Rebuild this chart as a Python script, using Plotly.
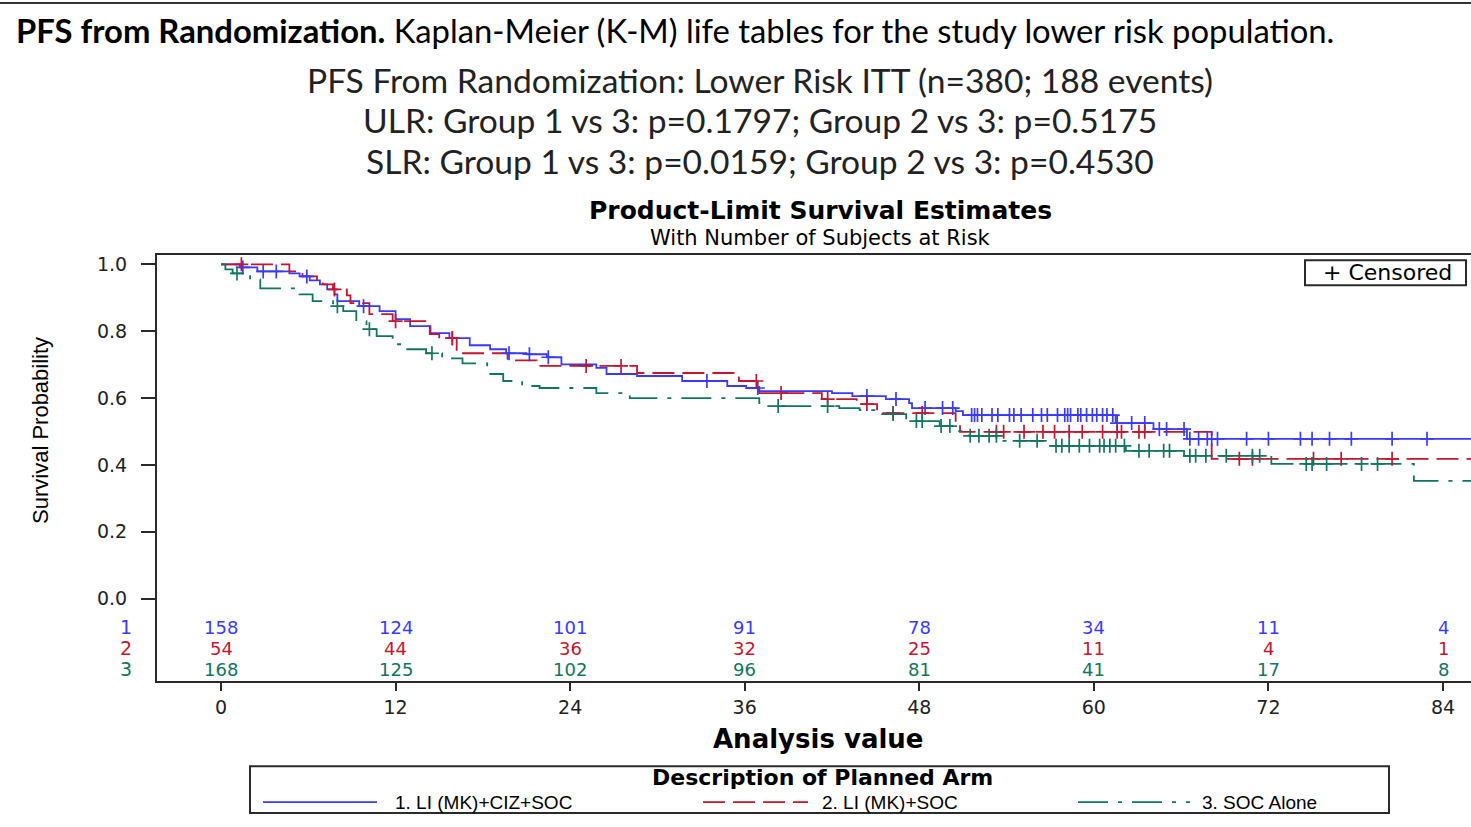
import numpy as np
import plotly.graph_objects as go

W, H = 1471, 827

# ---------------- data ----------------
months = [0, 12, 24, 36, 48, 60, 72, 84]

g1_t = [0, 1.3, 2.5, 4.7, 5.4, 6.1, 6.8, 7.3, 7.8, 8.0, 9.5, 10.9, 12.0, 13.0, 14.4, 15.7, 17.1, 18.5,
        19.6, 21.0, 22.4, 23.4, 25.8, 26.5, 28.6, 31.7, 34.8, 36.1, 37.0, 42.0, 43.4, 45.7, 47.3, 47.5,
        50.5, 51.0, 61.5, 64.1, 66.4, 86]
g1_s = [1.0, 0.991, 0.979, 0.973, 0.964, 0.952, 0.940, 0.925, 0.910, 0.890, 0.875, 0.860, 0.836, 0.815,
        0.794, 0.779, 0.758, 0.746, 0.734, 0.731, 0.722, 0.701, 0.690, 0.672, 0.666, 0.651, 0.636, 0.630,
        0.621, 0.615, 0.606, 0.597, 0.585, 0.570, 0.561, 0.549, 0.525, 0.507, 0.478, 0.478]
g1_cens = [1.5, 2.9, 3.8, 5.9, 9.8, 15.9, 19.8, 21.2, 22.5, 33.4, 36.9, 44.4, 46.4, 48.4, 49.6, 50.3,
           51.6, 51.8, 52.0, 52.3, 53.0, 53.4, 54.2, 54.5, 55.0, 55.8, 56.4, 56.8, 57.5, 58.0, 58.2, 58.4,
           58.9, 59.1, 59.5, 59.9, 60.2, 60.6, 60.9, 61.3, 61.6, 62.6, 63.5, 64.5, 65.0, 66.2, 66.6, 67.2,
           67.8, 68.1, 68.5, 70.5, 72.0, 74.2, 75.0, 76.2, 77.7, 80.5, 82.9]

g2_t = [0, 4.7, 5.6, 6.6, 7.0, 7.7, 8.65, 8.9, 10.2, 11.8, 14.35, 15.0, 16.2, 19.7, 21.7, 28.6, 35.6,
        37.0, 41.3, 43.7, 45.1, 50.5, 50.8, 68.1, 86]
g2_s = [1.0, 0.979, 0.964, 0.949, 0.940, 0.925, 0.907, 0.884, 0.851, 0.830, 0.791, 0.779, 0.734, 0.713,
        0.696, 0.675, 0.651, 0.615, 0.597, 0.582, 0.555, 0.522, 0.499, 0.418, 0.418]
g2_cens = [1.4, 7.8, 12.0, 15.9, 25.1, 27.5, 36.8, 38.5, 41.7, 44.4, 46.2, 48.2, 53.3, 53.8, 55.2, 56.5,
           57.3, 58.3, 59.2, 60.6, 61.6, 61.9, 63.1, 63.5, 70.0, 70.9, 75.1, 77.0, 80.5]

g3_t = [0, 0.3, 0.8, 2.0, 2.7, 5.4, 6.3, 7.7, 8.4, 9.3, 10.0, 10.7, 11.8, 12.8, 14.1, 15.2, 16.6, 18.3,
        19.4, 20.7, 21.9, 25.8, 28.1, 37.0, 37.5, 42.5, 43.9, 45.1, 47.1, 49.4, 50.5, 51.4, 53.7, 56.7,
        62.2, 66.2, 72.2, 82.0, 86]
g3_s = [1.0, 0.985, 0.973, 0.955, 0.928, 0.910, 0.890, 0.875, 0.860, 0.830, 0.806, 0.785, 0.761, 0.746,
        0.734, 0.719, 0.704, 0.672, 0.651, 0.636, 0.630, 0.615, 0.600, 0.585, 0.576, 0.570, 0.564, 0.552,
        0.531, 0.516, 0.501, 0.487, 0.472, 0.457, 0.442, 0.427, 0.403, 0.352, 0.352]
g3_cens = [1.1, 8.0, 10.2, 14.5, 38.3, 41.7, 46.2, 47.8, 48.2, 49.5, 50.1, 51.5, 52.1, 52.8, 53.3, 54.9,
           56.1, 57.4, 57.8, 58.3, 59.0, 59.7, 60.4, 60.7, 61.1, 61.5, 62.1, 63.1, 63.8, 64.8, 65.2, 66.6,
           67.0, 67.7, 69.1, 70.9, 71.4, 74.6, 75.0, 76.0, 78.4, 79.5]

risk_1 = [158, 124, 101, 91, 78, 34, 11, 4]
risk_2 = [54, 44, 36, 32, 25, 11, 4, 1]
risk_3 = [168, 125, 102, 96, 81, 41, 17, 8]

arm_labels = ["1. LI (MK)+CIZ+SOC", "2. LI (MK)+SOC", "3. SOC Alone"]

# ---------------- styling ----------------
C1, C2, C3 = "#3a3aff", "#c4162f", "#127563"
DASH2 = "22px,8px"
DASH3 = "30px,10px,4px,10px"
AX = "#2a2a2a"
SAS = "DejaVu Sans"


def px(x):
    return x / W


def py(y):
    return 1 - y / H


def step_at(t, s, c):
    idx = np.searchsorted(np.asarray(t), np.asarray(c), side="right") - 1
    return list(np.asarray(s)[idx])


fig = go.Figure()
groups = [(g1_t, g1_s, g1_cens, C1, "solid"),
          (g2_t, g2_s, g2_cens, C2, DASH2),
          (g3_t, g3_s, g3_cens, C3, DASH3)]
for t, s, c, col, dash in groups:
    fig.add_trace(go.Scatter(x=t, y=s, mode="lines", line=dict(color=col, width=1.8, dash=dash, shape="hv"),
                             showlegend=False, hoverinfo="skip"))
for t, s, c, col, dash in groups:
    fig.add_trace(go.Scatter(x=c, y=step_at(t, s, c), mode="markers",
                             marker=dict(symbol="cross-thin", size=10, line=dict(color=col, width=1.7)),
                             showlegend=False, hoverinfo="skip"))

x0, x1 = 157, 1471
y0, y1 = 254, 681
t_left = (x0 - 221) / ((1443 - 221) / 84)
t_right = (x1 - 221) / ((1443 - 221) / 84)
s_top = (598 - y0) / 335
s_bot = (598 - y1) / 335

fig.update_xaxes(domain=[px(x0), 1.0], range=[t_left, t_right], tickvals=months,
                 ticks="outside", ticklen=8, tickwidth=2, tickcolor=AX,
                 showline=True, linewidth=2, linecolor=AX, mirror=True,
                 showgrid=False, zeroline=False,
                 tickfont=dict(family=SAS, size=19, color="#222"))
fig.update_yaxes(domain=[py(y1), py(y0)], range=[s_bot, s_top],
                 tickvals=[0, 0.2, 0.4, 0.6, 0.8, 1.0],
                 ticktext=["0.0", "0.2", "0.4", "0.6", "0.8", "1.0"],
                 ticks="outside", ticklen=14, tickwidth=1.5, tickcolor=AX, ticklabelstandoff=10,
                 showline=True, linewidth=2, linecolor=AX, mirror=False,
                 showgrid=False, zeroline=False,
                 tickfont=dict(family=SAS, size=19, color="#222"))

ann = []
TF = "Lato"
ann.append(dict(x=px(14), y=py(29), xref="paper", yref="paper", xanchor="left", yanchor="middle",
                text="<b>PFS from Randomization.</b> Kaplan-Meier (K-M) life tables for the study lower risk population.",
                showarrow=False, font=dict(family=TF, size=32.8, color="#000")))
for yy, txt in [(78, "PFS From Randomization: Lower Risk ITT (n=380; 188 events)"),
                (118, "ULR: Group 1 vs 3: p=0.1797; Group 2 vs 3: p=0.5175"),
                (159, "SLR: Group 1 vs 3: p=0.0159; Group 2 vs 3: p=0.4530")]:
    ann.append(dict(x=px(760), y=py(yy), xref="paper", yref="paper", xanchor="center", yanchor="middle",
                    text=txt, showarrow=False, font=dict(family=TF, size=33.6, color="#222")))

ann.append(dict(x=px(821), y=py(209), xref="paper", yref="paper", xanchor="center", yanchor="middle",
                text="<b>Product-Limit Survival Estimates</b>", showarrow=False,
                font=dict(family=SAS, size=25, color="#000")))
ann.append(dict(x=px(820), y=py(237), xref="paper", yref="paper", xanchor="center", yanchor="middle",
                text="With Number of Subjects at Risk", showarrow=False,
                font=dict(family=SAS, size=21, color="#000")))
ann.append(dict(x=px(41), y=py(430), xref="paper", yref="paper", xanchor="center", yanchor="middle",
                text="Survival Probability", textangle=-90, showarrow=False,
                font=dict(family="Liberation Sans", size=22, color="#000")))
ann.append(dict(x=px(818), y=py(739), xref="paper", yref="paper", xanchor="center", yanchor="middle",
                text="<b>Analysis value</b>", showarrow=False,
                font=dict(family=SAS, size=26, color="#000")))
ann.append(dict(x=px(1387), y=py(271), xref="paper", yref="paper", xanchor="center", yanchor="middle",
                text="+ Censored", showarrow=False, font=dict(family=SAS, size=22, color="#000")))

# at-risk table
for row_y, vals, col, lab in [(627, risk_1, C1, "1"), (648, risk_2, C2, "2"), (669, risk_3, C3, "3")]:
    ann.append(dict(x=px(126), y=py(row_y), xref="paper", yref="paper", xanchor="center", yanchor="middle",
                    text=lab, showarrow=False, font=dict(family=SAS, size=19, color=col)))
    for m, v in zip(months, vals):
        ann.append(dict(x=m, y=py(row_y), xref="x", yref="paper", xanchor="center", yanchor="middle",
                        text=str(v), showarrow=False, font=dict(family=SAS, size=18, color=col)))

# legend
ann.append(dict(x=px(822), y=py(777), xref="paper", yref="paper", xanchor="center", yanchor="middle",
                text="<b>Description of Planned Arm</b>", showarrow=False,
                font=dict(family=SAS, size=22, color="#000")))
shapes = []
leg = [(263, 377, 393, C1, "solid", arm_labels[0]),
       (703, 808, 820, C2, DASH2, arm_labels[1]),
       (1078, 1190, 1200, C3, DASH3, arm_labels[2])]
for lx0, lx1, tx, col, dash, lab in leg:
    shapes.append(dict(type="line", xref="paper", yref="paper", x0=px(lx0), x1=px(lx1), y0=py(802), y1=py(802),
                       line=dict(color=col, width=1.8, dash=dash)))
    ann.append(dict(x=px(tx), y=py(802), xref="paper", yref="paper", xanchor="left", yanchor="middle",
                    text=lab, showarrow=False, font=dict(family="Liberation Sans", size=19, color="#000")))

shapes.append(dict(type="rect", xref="paper", yref="paper", x0=px(250), x1=px(1389), y0=py(813), y1=py(766),
                   line=dict(color=AX, width=2)))
shapes.append(dict(type="rect", xref="paper", yref="paper", x0=px(1305), x1=px(1466), y0=py(284), y1=py(259),
                   line=dict(color=AX, width=2)))
shapes.append(dict(type="line", xref="paper", yref="paper", x0=0, x1=1, y0=py(1), y1=py(1),
                   line=dict(color="#333", width=2)))

fig.update_layout(width=W, height=H, margin=dict(l=0, r=0, t=0, b=0),
                  paper_bgcolor="white", plot_bgcolor="white",
                  annotations=ann, shapes=shapes, showlegend=False)

fig.write_html("out.html")
